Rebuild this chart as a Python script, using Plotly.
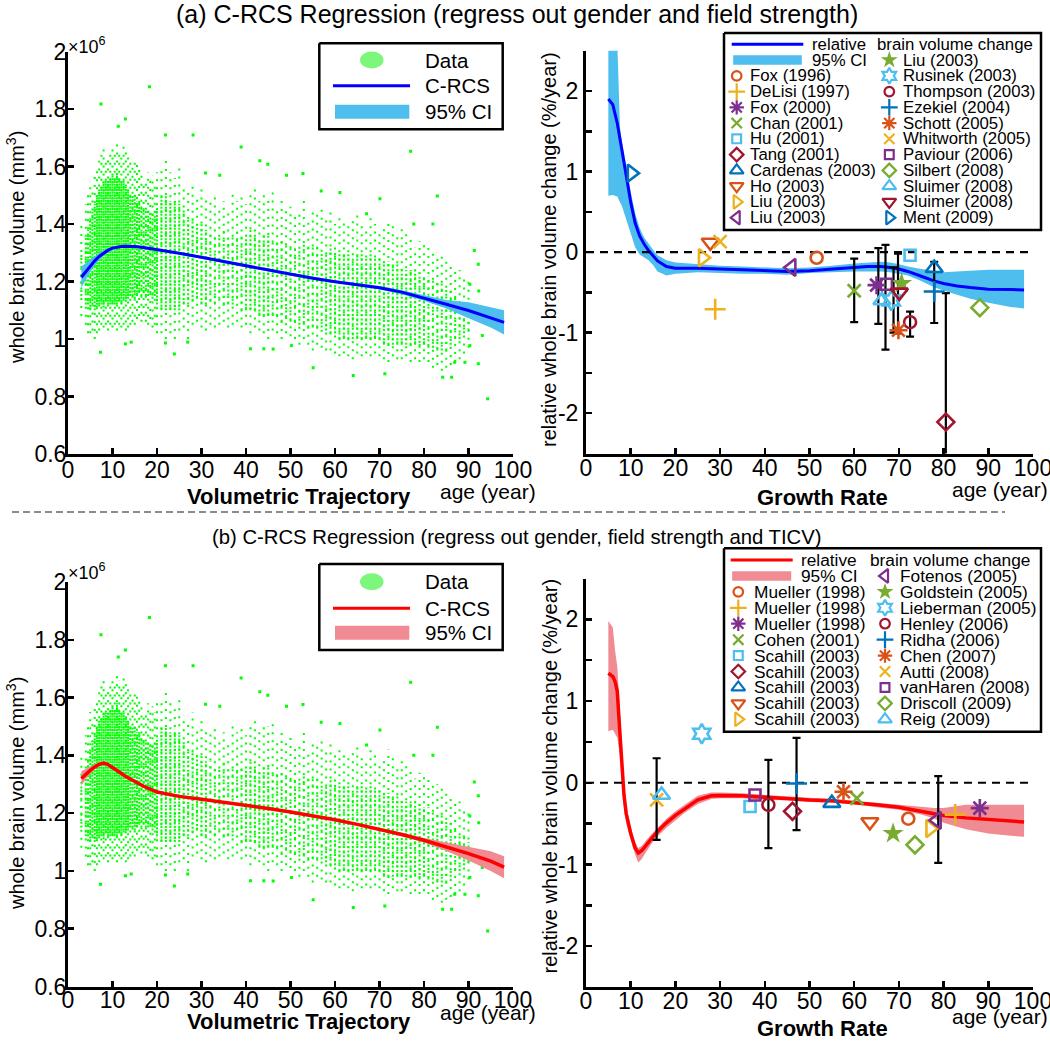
import plotly.graph_objects as go

W, H = 1050, 1042
FONT = "Liberation Sans, Arial, Helvetica, sans-serif"

# ------------------------------------------------------------------ data
# raw scatter cloud (same subjects in both left panels), read per age column
cloud_age = [3, 4, 4.5, 5, 5.5, 6, 6.5, 7, 7.5, 8, 8.5, 9, 9.5, 10, 10.5, 11, 11.5, 12, 12.5, 13,
             13.5, 14, 14.5, 15, 15.5, 16, 16.5, 17, 17.5, 18, 18.5, 19, 19.5, 20,
             21, 22, 23, 24, 25, 26, 27, 28, 29, 30, 31, 32, 33, 34, 35, 36, 37, 38, 39, 40,
             41, 42, 43, 44, 45, 46, 47, 48, 49, 50, 51, 52, 53, 54, 55, 56, 57, 58, 59, 60,
             61, 62, 63, 64, 65, 66, 67, 68, 69, 70, 71, 72, 73, 74, 75, 76, 77, 78, 79, 80,
             81, 82, 83, 84, 85, 86, 87, 88, 89, 90]
cloud_lo = [1.08, 1.05, 1.02, 1.02, 1.03, 1.00, 1.02, 1.03, 1.05, 1.04, 1.05, 1.03, 1.05, 1.04, 1.05, 1.03, 1.05, 1.04, 1.05, 1.03,
            1.04, 1.05, 1.06, 1.05, 1.07, 1.08, 1.06, 1.08, 1.06, 1.05, 1.07, 1.04, 1.05, 1.02,
            1.02, 1.00, 1.02, 1.00, 1.03, 1.04, 1.00, 1.05, 1.06, 1.04, 1.03, 1.05, 1.04, 1.05, 1.06, 1.04, 1.05, 1.06, 1.04, 1.05,
            1.02, 1.04, 1.03, 1.02, 1.00, 1.03, 1.02, 1.00, 1.02, 1.01, 1.00, 0.98, 1.00, 0.98, 0.96, 0.98, 0.97, 0.96, 0.96, 0.95,
            0.94, 0.95, 0.94, 0.93, 0.95, 0.94, 0.95, 0.94, 0.95, 0.94, 0.93, 0.92, 0.94, 0.93, 0.93, 0.94, 0.92, 0.93, 0.92, 0.93,
            0.92, 0.90, 0.91, 0.89, 0.90, 0.91, 0.92, 0.93, 0.95, 0.97]
cloud_hi = [1.40, 1.47, 1.50, 1.55, 1.52, 1.58, 1.60, 1.62, 1.64, 1.66, 1.62, 1.63, 1.65, 1.67, 1.65, 1.68, 1.66, 1.65, 1.68, 1.66,
            1.64, 1.62, 1.60, 1.63, 1.61, 1.60, 1.58, 1.55, 1.55, 1.58, 1.55, 1.57, 1.55, 1.58,
            1.60, 1.62, 1.58, 1.56, 1.60, 1.54, 1.52, 1.55, 1.50, 1.52, 1.50, 1.48, 1.50, 1.46, 1.48, 1.45, 1.52, 1.48, 1.50, 1.47,
            1.50, 1.52, 1.48, 1.50, 1.50, 1.52, 1.46, 1.48, 1.45, 1.46, 1.44, 1.45, 1.48, 1.42, 1.45, 1.44, 1.46, 1.42, 1.45, 1.40,
            1.42, 1.42, 1.40, 1.42, 1.44, 1.40, 1.38, 1.42, 1.40, 1.38, 1.40, 1.42, 1.40, 1.36, 1.40, 1.38, 1.35, 1.32, 1.34, 1.33,
            1.32, 1.30, 1.30, 1.30, 1.28, 1.27, 1.25, 1.24, 1.22, 1.20]
cloud_core_lo = [1.15, 1.12, 1.12, 1.10, 1.12, 1.10, 1.11, 1.12, 1.12, 1.11, 1.13, 1.12, 1.12, 1.12, 1.12, 1.12, 1.13, 1.12, 1.14, 1.13,
                 1.14, 1.15, 1.15, 1.14, 1.15, 1.16, 1.15, 1.16, 1.15, 1.15, 1.16, 1.14, 1.15, 1.12,
                 1.10, 1.10, 1.10, 1.10, 1.10, 1.12, 1.12, 1.13, 1.14, 1.12, 1.12, 1.13, 1.12, 1.14, 1.12, 1.12, 1.12, 1.14, 1.10, 1.10,
                 1.10, 1.10, 1.08, 1.08, 1.08, 1.08, 1.08, 1.06, 1.07, 1.06, 1.06, 1.05, 1.05, 1.04, 1.04, 1.04, 1.04, 1.03, 1.02, 1.02,
                 1.00, 1.00, 1.00, 1.00, 1.00, 1.00, 1.00, 1.00, 1.00, 1.00, 0.98, 0.98, 0.98, 0.98, 0.98, 0.98, 0.98, 0.98, 0.97, 0.98,
                 0.97, 0.97, 0.96, 0.96, 0.96, 0.98, 1.00, 1.00, 1.02, 1.03]
cloud_core_hi = [1.30, 1.36, 1.38, 1.42, 1.45, 1.47, 1.50, 1.52, 1.53, 1.55, 1.55, 1.55, 1.56, 1.57, 1.56, 1.58, 1.56, 1.55, 1.55, 1.53,
                 1.52, 1.50, 1.50, 1.50, 1.48, 1.48, 1.47, 1.46, 1.45, 1.45, 1.44, 1.44, 1.45, 1.46,
                 1.50, 1.50, 1.48, 1.48, 1.47, 1.45, 1.42, 1.42, 1.40, 1.40, 1.38, 1.38, 1.36, 1.36, 1.38, 1.35, 1.36, 1.38, 1.36, 1.35,
                 1.38, 1.37, 1.35, 1.36, 1.36, 1.35, 1.34, 1.35, 1.33, 1.33, 1.32, 1.32, 1.33, 1.32, 1.33, 1.32, 1.30, 1.30, 1.32, 1.30,
                 1.30, 1.30, 1.30, 1.28, 1.30, 1.30, 1.28, 1.30, 1.28, 1.28, 1.27, 1.27, 1.26, 1.26, 1.25, 1.24, 1.24, 1.24, 1.23, 1.22,
                 1.22, 1.21, 1.20, 1.20, 1.18, 1.17, 1.15, 1.12, 1.12, 1.10]
cloud_density = [1, 2, 2, 3, 3, 3, 4, 4, 4, 4, 4, 4, 4, 4, 4, 4, 4, 4, 4, 4,
                 4, 3, 3, 3, 3, 3, 2, 2, 2, 2, 2, 2, 2, 3,
                 3, 3, 3, 3, 3, 2, 2, 2, 2, 2, 2, 1, 1, 1, 1, 1, 1, 1, 1, 2,
                 2, 2, 2, 2, 2, 1, 1, 1, 1, 1, 1, 1, 1, 1, 1, 1, 1, 2, 2, 2,
                 2, 2, 2, 2, 2, 2, 2, 2, 2, 2, 2, 2, 2, 2, 2, 2, 2, 2, 2, 2,
                 1, 1, 1, 1, 1, 1, 1, 1, 1, 1]
outlier_age = [18.3, 7.4, 12.9, 11.3, 21.9, 28.1, 38.9, 77.0, 43.1, 44.9, 30.9, 94.3, 55.1, 64.1, 71.2,
               84.2, 86.2, 7.3, 23.9, 41.0, 44.0, 46.1, 50.2, 12.9, 14.2, 21.9, 26.9, 86.9, 89.2, 90.3,
               92.2, 93.1, 91.3, 92.2, 92.3, 90.3, 83.0, 82.0, 77.7, 70.1, 61.1, 52.8, 49.1, 34.1, 67.1, 56.9]
outlier_vol = [1.877, 1.817, 1.765, 1.74, 1.71, 1.71, 1.668, 1.653, 1.62, 1.608, 1.577, 0.792, 0.90, 0.873, 0.879,
               0.867, 0.867, 0.954, 0.948, 0.966, 0.966, 0.965, 0.977, 0.983, 0.989, 0.986, 0.989, 0.919, 0.919, 0.977,
               0.914, 1.012, 1.308, 1.26, 1.167, 1.19, 1.497, 1.40, 1.40, 1.488, 1.51, 1.576, 1.57, 1.57, 1.436, 1.515]

# C-RCS fitted volume trajectories (x10^6 mm^3)
fit_age = [3, 4, 5, 6, 7, 8, 9, 10, 11, 12, 13, 14, 15, 17, 20, 25, 30, 35, 40, 45, 50, 55, 60, 65, 70, 75, 80, 85, 90, 95, 98]
volA = [1.215, 1.235, 1.255, 1.272, 1.287, 1.299, 1.309, 1.316, 1.320, 1.322, 1.323, 1.323, 1.322, 1.318, 1.311, 1.298,
        1.284, 1.269, 1.254, 1.239, 1.225, 1.211, 1.199, 1.189, 1.178, 1.163, 1.143, 1.121, 1.099, 1.075, 1.058]
volA_lo = [1.178, 1.206, 1.234, 1.256, 1.275, 1.290, 1.302, 1.310, 1.315, 1.318, 1.319, 1.319, 1.318, 1.314, 1.307, 1.294,
           1.280, 1.265, 1.250, 1.235, 1.220, 1.206, 1.194, 1.184, 1.172, 1.156, 1.133, 1.106, 1.072, 1.040, 1.016]
volA_hi = [1.252, 1.264, 1.276, 1.288, 1.299, 1.308, 1.316, 1.322, 1.325, 1.326, 1.327, 1.327, 1.326, 1.322, 1.315, 1.302,
           1.288, 1.273, 1.258, 1.243, 1.230, 1.216, 1.204, 1.194, 1.184, 1.170, 1.153, 1.136, 1.128, 1.110, 1.100]
volB = [1.320, 1.335, 1.348, 1.360, 1.369, 1.373, 1.368, 1.358, 1.347, 1.337, 1.327, 1.318, 1.310, 1.293, 1.273, 1.258,
        1.248, 1.238, 1.227, 1.216, 1.204, 1.191, 1.177, 1.161, 1.144, 1.126, 1.106, 1.084, 1.060, 1.034, 1.013]
volB_lo = [1.295, 1.317, 1.336, 1.351, 1.362, 1.367, 1.363, 1.353, 1.342, 1.332, 1.322, 1.313, 1.305, 1.288, 1.268, 1.254,
           1.244, 1.234, 1.223, 1.212, 1.200, 1.187, 1.173, 1.157, 1.139, 1.120, 1.098, 1.069, 1.036, 1.000, 0.975]
volB_hi = [1.345, 1.353, 1.360, 1.369, 1.376, 1.379, 1.373, 1.363, 1.352, 1.342, 1.332, 1.323, 1.315, 1.298, 1.278, 1.262,
           1.252, 1.242, 1.231, 1.220, 1.208, 1.195, 1.181, 1.165, 1.149, 1.132, 1.114, 1.099, 1.084, 1.068, 1.051]

# relative whole brain volume change (%/year)
rateA_age = [5, 6, 7, 8, 9, 10, 11, 12, 13, 14, 15, 16, 18, 20, 25, 30, 35, 40, 45, 50, 55, 60, 63, 66, 68, 70,
             72, 75, 78, 80, 83, 86, 90, 95, 98]
rateA = [1.90, 1.83, 1.60, 1.25, 0.95, 0.62, 0.36, 0.20, 0.10, 0.02, -0.05, -0.11, -0.18, -0.20, -0.20, -0.21, -0.22,
         -0.23, -0.24, -0.23, -0.21, -0.19, -0.18, -0.18, -0.19, -0.21, -0.24, -0.30, -0.36, -0.39, -0.42, -0.44,
         -0.46, -0.465, -0.47]
bandA_age = [5, 6, 7, 7.6, 8, 9, 10, 11, 12, 13, 14, 15, 16, 18, 20, 25, 30, 35, 40, 45, 50, 55, 60, 63, 66, 68,
             70, 72, 75, 78, 80, 83, 86, 90, 95, 98]
bandA_hi = [2.6, 2.6, 2.6, 1.55, 1.38, 1.08, 0.75, 0.48, 0.30, 0.18, 0.10, 0.03, -0.04, -0.10, -0.13, -0.15, -0.17,
            -0.18, -0.19, -0.20, -0.19, -0.17, -0.14, -0.13, -0.12, -0.13, -0.15, -0.18, -0.21, -0.23, -0.25, -0.24,
            -0.23, -0.22, -0.22, -0.22]
bandA_lo = [0.70, 0.71, 0.69, 0.62, 0.58, 0.42, 0.24, 0.06, -0.03, -0.07, -0.10, -0.16, -0.24, -0.29, -0.27, -0.25,
            -0.26, -0.27, -0.27, -0.28, -0.26, -0.25, -0.24, -0.24, -0.24, -0.25, -0.27, -0.29, -0.36, -0.44, -0.48,
            -0.53, -0.58, -0.63, -0.68, -0.70]
rateB_age = [5, 6, 6.5, 7, 7.5, 8, 8.5, 9, 10, 11, 11.7, 12.5, 13.5, 15, 16.5, 18, 20, 22, 25, 28, 30, 35, 40, 45,
             50, 55, 60, 65, 70, 75, 80, 85, 90, 95, 98]
rateB = [1.34, 1.30, 1.24, 1.12, 0.68, 0.20, -0.15, -0.38, -0.62, -0.80, -0.86, -0.83, -0.76, -0.66, -0.57, -0.49,
         -0.40, -0.32, -0.21, -0.16, -0.155, -0.16, -0.18, -0.19, -0.21, -0.22, -0.24, -0.27, -0.30, -0.35, -0.40,
         -0.43, -0.45, -0.47, -0.48]
bandB_age = [5, 6, 6.5, 7, 7.5, 8, 8.5, 9, 10, 11, 11.7, 12.5, 13.5, 15, 16.5, 18, 20, 22, 25, 28, 30, 35, 40, 45,
             50, 55, 60, 65, 70, 75, 78, 80, 85, 90, 95, 98]
bandB_hi = [1.98, 1.90, 1.62, 1.42, 0.95, 0.40, 0.00, -0.28, -0.54, -0.73, -0.80, -0.77, -0.70, -0.61, -0.52, -0.44,
            -0.35, -0.27, -0.16, -0.12, -0.12, -0.13, -0.15, -0.165, -0.185, -0.20, -0.22, -0.245, -0.27, -0.30,
            -0.31, -0.31, -0.27, -0.27, -0.27, -0.27]
bandB_lo = [0.63, 0.65, 0.60, 0.55, 0.36, 0.00, -0.32, -0.50, -0.70, -0.88, -0.98, -0.93, -0.84, -0.72, -0.63, -0.55,
            -0.46, -0.37, -0.26, -0.20, -0.19, -0.19, -0.21, -0.215, -0.235, -0.245, -0.26, -0.30, -0.33, -0.39,
            -0.44, -0.49, -0.57, -0.62, -0.65, -0.66]

# literature studies, panel (a)
studyA_name = ["Fox (1996)", "DeLisi (1997)", "Fox (2000)", "Chan (2001)", "Hu (2001)", "Tang (2001)",
               "Cardenas (2003)", "Ho (2003)", "Liu (2003)", "Liu (2003)", "Liu (2003)", "Rusinek (2003)",
               "Thompson (2003)", "Ezekiel (2004)", "Schott (2005)", "Whitworth (2005)", "Paviour (2006)",
               "Silbert (2008)", "Sluimer (2008)", "Sluimer (2008)", "Ment (2009)"]
studyA_age = [51.6, 28.9, 65.0, 60.0, 72.5, 80.5, 77.9, 27.8, 26.1, 46.0, 70.6, 68.3, 72.5, 77.9, 69.9, 30.0,
              67.2, 88.1, 66.2, 70.1, 10.2]
studyA_rate = [-0.07, -0.71, -0.41, -0.48, -0.04, -2.11, -0.20, 0.12, -0.07, -0.19, -0.39, -0.60, -0.87, -0.49,
               -0.97, 0.13, -0.40, -0.69, -0.60, -0.50, 0.98]
errA_age = [60.0, 65.4, 67.0, 68.8, 69.8, 72.5, 77.9, 80.5]
errA_lo = [-0.87, -0.89, -1.21, -1.00, -1.01, -1.05, -0.88, -2.80]
errA_hi = [-0.08, 0.05, 0.09, -0.19, -0.02, -0.74, -0.12, -0.51]

# literature studies, panel (b)
studyB_name = ["Mueller (1998)", "Mueller (1998)", "Mueller (1998)", "Cohen (2001)", "Scahill (2003)",
               "Scahill (2003)", "Scahill (2003)", "Scahill (2003)", "Scahill (2003)", "Fotenos (2005)",
               "Goldstein (2005)", "Lieberman (2005)", "Henley (2006)", "Ridha (2006)", "Chen (2007)",
               "Autti (2008)", "vanHaren (2008)", "Driscoll (2009)", "Reig (2009)"]
studyB_age = [72.1, 82.6, 88.1, 60.6, 36.7, 46.2, 55.0, 63.5, 77.0, 78.5, 68.7, 25.9, 40.8, 47.1, 57.6, 15.8,
              37.8, 73.6, 16.9]
studyB_rate = [-0.44, -0.39, -0.31, -0.19, -0.29, -0.35, -0.25, -0.48, -0.56, -0.46, -0.62, 0.60, -0.27, -0.01,
               -0.11, -0.21, -0.15, -0.76, -0.15]
errB_age = [15.8, 40.8, 47.1, 78.8]
errB_lo = [-0.70, -0.80, -0.58, -0.98]
errB_hi = [0.30, 0.28, 0.55, 0.08]

x_ticks = [0, 10, 20, 30, 40, 50, 60, 70, 80, 90, 100]
vol_ticks = [0.6, 0.8, 1.0, 1.2, 1.4, 1.6, 1.8, 2.0]
vol_ticktext = ["0.6", "0.8", "1", "1.2", "1.4", "1.6", "1.8", "2"]
rate_ticks = [-2, -1, 0, 1, 2]
rate_ticktext = ["-2", "-1", "0", "1", "2"]
rate_minor_ticks = [-2.5, -1.5, -0.5, 0.5, 1.5, 2.5]

# ------------------------------------------------------------------ style
ORANGE, YELLOW, PURPLE, GREEN, LBLUE, DRED, BLUE = "#D95319", "#EDB120", "#7E2F8E", "#77AC30", "#4DBEEE", "#A2142F", "#0072BD"
COLOR_CYCLE = [ORANGE, YELLOW, PURPLE, GREEN, LBLUE, DRED, BLUE]
MARKER_CYCLE = ["o", "+", "*", "x", "s", "d", "^", "v", ">", "<", "p", "h"]
SYM = {"o": "circle-open", "+": "cross-thin-open", "*": "asterisk-open", "x": "x-thin-open", "s": "square-open",
       "d": "diamond-open", "^": "triangle-up-open", "v": "triangle-down-open", ">": "triangle-right-open",
       "<": "triangle-left-open", "p": "star", "h": "hexagram-open"}
MSIZE = {"o": 12, "+": 15, "*": 15, "x": 13, "s": 11, "d": 13, "^": 15, "v": 15, ">": 15, "<": 15, "p": 16, "h": 15}
DOT_GREEN = "#00FF00"
CI_BLUE = "#4DBEEE"
CI_RED = "#F08A93"
DENSITY_DASH = {1: "2px,4.5px", 2: "2px,2.6px", 3: "2px,1.5px", 4: "2px,0.7px"}

fig = go.Figure()


def dom_x(l, r):
    return [l / W, r / W]


def dom_y(t, b):
    return [1 - b / H, 1 - t / H]


def ax_style(**kw):
    d = dict(showline=True, linewidth=3, linecolor="black", ticks="inside", ticklen=6, tickwidth=2.5,
             tickcolor="black", showgrid=False, zeroline=False, fixedrange=True, automargin=False,
             ticklabeloverflow="allow", tickfont=dict(family=FONT, size=23, color="black"))
    d.update(kw)
    return d


rate_minor = dict(tickvals=rate_minor_ticks, ticks="inside", ticklen=6, tickwidth=2.5, tickcolor="black",
                  showgrid=False)

layout_axes = dict(
    xaxis=ax_style(domain=dom_x(68, 513), range=[0, 100], tickvals=x_ticks, anchor="y", ticklabelstandoff=-7),
    yaxis=ax_style(domain=dom_y(51.5, 454), range=[0.6, 2.0], tickvals=vol_ticks, ticktext=vol_ticktext,
                   anchor="x", ticklabelstandoff=-6),
    xaxis2=ax_style(domain=dom_x(586, 1033), range=[0, 100], tickvals=x_ticks, anchor="y2", ticklabelstandoff=-8),
    yaxis2=ax_style(domain=dom_y(50.7, 453.5), range=[-2.5, 2.5], tickvals=rate_ticks, ticktext=rate_ticktext,
                    anchor="x2", minor=rate_minor),
    xaxis3=ax_style(domain=dom_x(68, 513), range=[0, 100], tickvals=x_ticks, anchor="y3", ticklabelstandoff=-9),
    yaxis3=ax_style(domain=dom_y(582, 986.5), range=[0.6, 2.0], tickvals=vol_ticks, ticktext=vol_ticktext,
                    anchor="x3", ticklabelstandoff=-6),
    xaxis4=ax_style(domain=dom_x(586, 1033), range=[0, 100], tickvals=x_ticks, anchor="y4", ticklabelstandoff=-9),
    yaxis4=ax_style(domain=dom_y(578.5, 987), range=[-2.5, 2.5], tickvals=rate_ticks, ticktext=rate_ticktext,
                    anchor="x4", minor=rate_minor),
    xaxis5=dict(domain=[0, 1], range=[0, W], visible=False, fixedrange=True, anchor="y5"),
    yaxis5=dict(domain=[0, 1], range=[H, 0], visible=False, fixedrange=True, anchor="x5"),
)


def add_cloud(xa, ya):
    xs, ys = [], []
    for a, lo, hi in zip(cloud_age, cloud_lo, cloud_hi):
        xs += [a, a, None]
        ys += [lo, hi, None]
    fig.add_trace(go.Scatter(x=xs, y=ys, mode="lines", xaxis=xa, yaxis=ya, hoverinfo="skip",
                             line=dict(color=DOT_GREEN, width=2, dash="2px,6px")))
    for d, dash in DENSITY_DASH.items():
        xs, ys = [], []
        for a, lo, hi, dd in zip(cloud_age, cloud_core_lo, cloud_core_hi, cloud_density):
            if dd == d:
                xs += [a, a, None]
                ys += [lo, hi, None]
        fig.add_trace(go.Scatter(x=xs, y=ys, mode="lines", xaxis=xa, yaxis=ya, hoverinfo="skip",
                                 line=dict(color=DOT_GREEN, width=2, dash=dash)))
    fig.add_trace(go.Scatter(x=outlier_age, y=outlier_vol, mode="markers", xaxis=xa, yaxis=ya, hoverinfo="skip",
                             marker=dict(color=DOT_GREEN, size=3, symbol="square", line=dict(width=0))))


def add_band(ages, lo, hi, color, xa, ya):
    fig.add_trace(go.Scatter(x=list(ages) + list(ages)[::-1], y=list(hi) + list(lo)[::-1], mode="lines",
                             fill="toself", fillcolor=color, line=dict(width=0), xaxis=xa, yaxis=ya,
                             hoverinfo="skip"))


def add_curve(ages, vals, color, width, xa, ya):
    fig.add_trace(go.Scatter(x=ages, y=vals, mode="lines", line=dict(color=color, width=width),
                             xaxis=xa, yaxis=ya, hoverinfo="skip"))


def marker_style(i, scale=1.0):
    m = MARKER_CYCLE[i % len(MARKER_CYCLE)]
    c = COLOR_CYCLE[i % len(COLOR_CYCLE)]
    return dict(symbol=SYM[m], size=MSIZE[m] * scale, color=c,
                line=dict(color=c, width=(0 if m == "p" else 2.6 * max(scale, 0.85))))


def add_studies(ages, rates, e_age, e_lo, e_hi, xa, ya):
    fig.add_trace(go.Scatter(x=[0, 100], y=[0, 0], mode="lines", xaxis=xa, yaxis=ya, hoverinfo="skip",
                             line=dict(color="black", width=2.2, dash="8px,6px")))
    fig.add_trace(go.Scatter(x=e_age, y=e_hi, mode="markers", xaxis=xa, yaxis=ya, hoverinfo="skip",
                             marker=dict(size=2, opacity=0),
                             error_y=dict(type="data", symmetric=False, array=[0] * len(e_hi),
                                          arrayminus=[h - l for h, l in zip(e_hi, e_lo)],
                                          color="black", thickness=2.2, width=4)))
    for i, (a, r) in enumerate(zip(ages, rates)):
        fig.add_trace(go.Scatter(x=[a], y=[r], mode="markers", xaxis=xa, yaxis=ya, hoverinfo="skip",
                                 marker=marker_style(i)))


# panel (a) left
add_cloud("x", "y")
add_band(fit_age, volA_lo, volA_hi, CI_BLUE, "x", "y")
add_curve(fit_age, volA, "#0000FF", 3, "x", "y")
# panel (a) right
add_band(bandA_age, bandA_lo, bandA_hi, CI_BLUE, "x2", "y2")
add_curve(rateA_age, rateA, "#0000FF", 3, "x2", "y2")
add_studies(studyA_age, studyA_rate, errA_age, errA_lo, errA_hi, "x2", "y2")
# panel (b) left
add_cloud("x3", "y3")
add_band(fit_age, volB_lo, volB_hi, CI_RED, "x3", "y3")
add_curve(fit_age, volB, "#FF0000", 3.5, "x3", "y3")
# panel (b) right
add_band(bandB_age, bandB_lo, bandB_hi, CI_RED, "x4", "y4")
add_curve(rateB_age, rateB, "#FF0000", 3.5, "x4", "y4")
add_studies(studyB_age, studyB_rate, errB_age, errB_lo, errB_hi, "x4", "y4")

# ------------------------------------------------------------------ legends (drawn on a pixel overlay)
annotations = []
shapes = []


def txt(x, y, s, size, anchor="left", bold=False, family=FONT, angle=0):
    annotations.append(dict(x=x, y=y, xref="x5", yref="y5", text=("<b>%s</b>" % s) if bold else s,
                            showarrow=False, xanchor=anchor, yanchor="middle", textangle=angle,
                            font=dict(family=family, size=size, color="black")))


def box(l, t, r, b):
    fig.add_trace(go.Scatter(x=[l, r, r, l, l], y=[t, t, b, b, t], mode="lines", fill="toself",
                             fillcolor="white", line=dict(color="black", width=2.5),
                             xaxis="x5", yaxis="y5", hoverinfo="skip"))


def seg(x0, x1, y, color, width):
    fig.add_trace(go.Scatter(x=[x0, x1], y=[y, y], mode="lines", line=dict(color=color, width=width),
                             xaxis="x5", yaxis="y5", hoverinfo="skip"))


def rect(x0, x1, yc, h, color):
    fig.add_trace(go.Scatter(x=[x0, x1, x1, x0, x0], y=[yc - h / 2, yc - h / 2, yc + h / 2, yc + h / 2, yc - h / 2],
                             mode="lines", fill="toself", fillcolor=color, line=dict(width=0),
                             xaxis="x5", yaxis="y5", hoverinfo="skip"))


def left_legend(t, rows, line_color, ci_color):
    box(319.3, t, 502.7, t + 86)
    shapes.append(dict(type="circle", xref="x5", yref="y5", x0=360, x1=383.5, y0=rows[0] - 8.5, y1=rows[0] + 8.5,
                       fillcolor="#7CF77C", line=dict(width=0), layer="above"))
    seg(333, 410, rows[1], line_color, 3)
    rect(335, 409.3, rows[2], 14, ci_color)
    for y, s in zip(rows, ["Data", "C-RCS", "95% CI"]):
        txt(422.7, y, s, 20.5)


def right_legend(t, b, y0, pitch, col_sym, col_txt, line_x, rel_x, brain_x, names, line_color, ci_color, fsize):
    box(724, t, 1041, b)
    nrows = (len(names) + 3 + 1) // 2
    seg(line_x[0], line_x[1], y0, line_color, 3)
    rect(line_x[0] + 1.5, line_x[1] - 1.5, y0 + pitch, 9.5, ci_color)
    txt(rel_x, y0, "relative", fsize)
    txt(brain_x, y0, "brain volume change", fsize)
    txt(rel_x, y0 + pitch, "95% CI", fsize)
    n1 = nrows - 2
    for i, name in enumerate(names):
        if i < n1:
            col, row = 0, i + 2
        else:
            col, row = 1, i - n1 + 1
        y = y0 + row * pitch
        fig.add_trace(go.Scatter(x=[col_sym[col]], y=[y], mode="markers", marker=marker_style(i, 0.8),
                                 xaxis="x5", yaxis="y5", hoverinfo="skip"))
        txt(col_txt[col], y, name, fsize)


left_legend(43.3, [60, 85.7, 111.7], "#0000FF", CI_BLUE)
left_legend(564, [581.7, 608.3, 632.7], "#FF0000", CI_RED)
right_legend(33, 230, 44.3, 15.76, [736.7, 889.3], [748.3, 901], [731.7, 803.3], 810, 875,
             studyA_name, "#0000FF", CI_BLUE, 16.8)
right_legend(548.3, 731.7, 560, 15.93, [738.3, 885], [752.3, 897.7], [730.7, 792.7], 799.3, 868.3,
             studyB_name, "#FF0000", CI_RED, 17.3)

# ------------------------------------------------------------------ titles & axis labels
txt(517, 14, "(a) C-RCS Regression (regress out gender and field strength)", 25, anchor="center")
txt(516.5, 537, "(b) C-RCS Regression (regress out gender, field strength and TICV)", 20.3, anchor="center")
for yc in (248, 794):
    txt(15, yc, "whole brain volume (mm<sup>3</sup>)", 20, anchor="center", angle=-90)
for yc in (250, 776.5):
    txt(549, yc, "relative whole brain volume change (%/year)", 20, anchor="center", angle=-90)
txt(298.5, 496.5, "Volumetric Trajectory", 22, anchor="center", bold=True)
txt(298.5, 1021, "Volumetric Trajectory", 22, anchor="center", bold=True)
txt(822, 497, "Growth Rate", 22, anchor="center", bold=True)
txt(822, 1028, "Growth Rate", 22, anchor="center", bold=True)
for (xa, ya) in ((438, 491), (438, 1012), (950, 489), (950, 1016)):
    txt(xa, ya, "age (year)", 21)
txt(66, 45, "×10<sup>6</sup>", 18)
txt(66, 571.7, "×10<sup>6</sup>", 18)

shapes.append(dict(type="line", xref="x5", yref="y5", x0=12, x1=1005, y0=512, y1=512,
                   line=dict(color="#8C8C8C", width=2, dash="7px,4px"), layer="above"))

fig.update_layout(width=W, height=H, margin=dict(l=0, r=0, t=0, b=0, pad=0, autoexpand=False),
                  paper_bgcolor="white", plot_bgcolor="rgba(0,0,0,0)", showlegend=False,
                  annotations=annotations, shapes=shapes,
                  font=dict(family=FONT, color="black"), **layout_axes)

fig.write_html("out.html", config={"displayModeBar": False, "staticPlot": True},
               post_script="document.body.style.margin='0';document.body.style.overflow='hidden';")
